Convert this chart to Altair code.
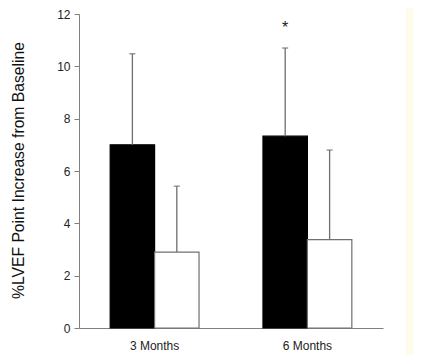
import altair as alt
import pandas as pd

months = ["3 Months", "6 Months"]
groups = ["Treatment", "Control"]
means = {"Treatment": [7.0, 7.33], "Control": [2.9, 3.38]}
err_tops = {"Treatment": [10.48, 10.7], "Control": [5.42, 6.8]}
star_month = "6 Months"
star_group = "Treatment"
star_y = 11.45

rows = []
for g in groups:
    for i, m in enumerate(months):
        rows.append({"month": m, "group": g, "mean": means[g][i], "top": err_tops[g][i]})
df = pd.DataFrame(rows)
star_df = pd.DataFrame([{"month": star_month, "group": star_group, "y": star_y, "t": "*"}])

FONT = "Liberation Sans"
AX = "#808080"

x = alt.X("month:N", sort=months,
          scale=alt.Scale(paddingInner=0.4185, paddingOuter=0.204),
          axis=alt.Axis(title=None, labelAngle=0, ticks=False, labelPadding=12,
                        labelFontSize=12, labelFont=FONT, labelColor="#222",
                        domainColor=AX, labelBaseline="top"))
xo = alt.XOffset("group:N", sort=groups, scale=alt.Scale(paddingInner=0, paddingOuter=0))
y = alt.Y("mean:Q", scale=alt.Scale(domain=[0, 12], nice=False),
          axis=alt.Axis(title="%LVEF Point Increase from Baseline", values=list(range(0, 13, 2)),
                        grid=False, tickSize=5, tickColor=AX, domainColor=AX,
                        labelFontSize=12, labelFont=FONT, labelColor="#222", labelPadding=4,
                        titleFont=FONT, titleFontSize=15.7, titleFontWeight="normal",
                        titleColor="#111", titleX=-53, titleY=156, titleAnchor="middle"))

color = alt.Color("group:N", scale=alt.Scale(domain=groups, range=["#000000", "#ffffff"]), legend=None)
stroke = alt.Stroke("group:N", scale=alt.Scale(domain=groups, range=["#000000", "#707070"]), legend=None)

bars = alt.Chart(df).mark_bar(strokeWidth=1.2).encode(x=x, xOffset=xo, y=y, color=color, stroke=stroke)

errs = alt.Chart(df).mark_rule(color="#6e6e6e", strokeWidth=1.3).encode(
    x=alt.X("month:N", sort=months), xOffset=alt.XOffset("group:N", sort=groups),
    y="mean:Q", y2="top:Q")
caps = alt.Chart(df).mark_tick(color="#6e6e6e", thickness=1.5, size=6, orient="horizontal").encode(
    x=alt.X("month:N", sort=months), xOffset=alt.XOffset("group:N", sort=groups),
    y="top:Q")
star = alt.Chart(star_df).mark_text(fontSize=16, font=FONT, color="#222", baseline="middle").encode(
    x=alt.X("month:N", sort=months), xOffset=alt.XOffset("group:N", sort=groups),
    y="y:Q", text="t:N")

strip = alt.Chart(pd.DataFrame({"a": [0]})).mark_rect(color="#fffbea", clip=False).encode(
    x=alt.value(327), x2=alt.value(334), y=alt.value(-14), y2=alt.value(341))

chart = alt.layer(strip, bars, errs, caps, star).properties(
    width=304, height=314,
    autosize=alt.AutoSizeParams(type="none"),
    padding={"left": 71, "top": 6, "right": 40, "bottom": 35},
).configure_view(stroke=None).configure_axisY(domain=True)

chart.save("out.html", embed_options={"renderer": "svg", "actions": False})
